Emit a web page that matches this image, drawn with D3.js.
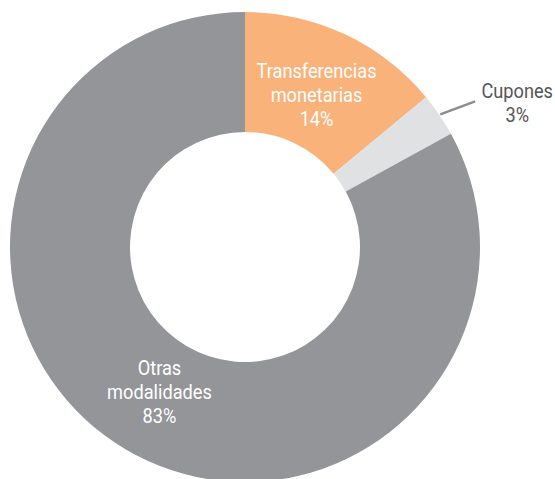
<!DOCTYPE html>
<html><head><meta charset="utf-8">
<script src="https://cdn.jsdelivr.net/npm/d3@7"></script>
<style>body{margin:0;background:#fff}svg{display:block}text{font-family:Roboto,"Noto Sans",sans-serif}</style>
</head><body><svg id="c" width="555" height="479"></svg>
<script>
const categories = ["Transferencias monetarias", "Cupones", "Otras modalidades"];
const labelLines = [["Transferencias", "monetarias", "14%"], ["Cupones", "3%"], ["Otras", "modalidades", "83%"]];
const values = [14, 3, 83];
const colors = ["#F8B27A", "#E0E1E3", "#939598"];

const svg = d3.select("#c");
const cx = 245, cy = 247, R = 235, r = 115;
const g = svg.append("g").attr("transform", `translate(${cx},${cy})`);
const pie = d3.pie().sort(null).value(d => d)(values);
const arc = d3.arc().innerRadius(r).outerRadius(R);
g.selectAll("path").data(pie).join("path")
  .attr("d", arc).attr("fill", (d, i) => colors[i]);

const labelArc = d3.arc().innerRadius(168).outerRadius(168);
const fs = 20, lh = 24, sx = 0.91;
function drawLines(x, y, lines, fill) {
  const t = g.append("text").attr("transform", `translate(${x},${y}) scale(${sx},1)`)
    .attr("text-anchor", "middle").attr("fill", fill).attr("font-size", fs);
  const n = lines.length;
  lines.forEach((s, k) => {
    t.append("tspan").attr("x", 0).attr("y", (k - (n - 1) / 2) * lh + fs * 0.35).text(s);
  });
}
[0, 2].forEach(i => {
  const [x, y] = labelArc.centroid(pie[i]);
  drawLines(x, y, labelLines[i], "#fff");
});
// Cupones outside label with leader
const a = (pie[1].startAngle + pie[1].endAngle) / 2;
const p1 = [Math.sin(a) * (R + 1), -Math.cos(a) * (R + 1)];
const p2 = [p1[0] + 35, p1[1] - 13];
g.append("line").attr("x1", p1[0]).attr("y1", p1[1]).attr("x2", p2[0]).attr("y2", p2[1])
  .attr("stroke", "#8c8c8c").attr("stroke-width", 2.5);
drawLines(p2[0] + 42, p2[1] + 2, labelLines[1], "#555");
</script></body></html>
